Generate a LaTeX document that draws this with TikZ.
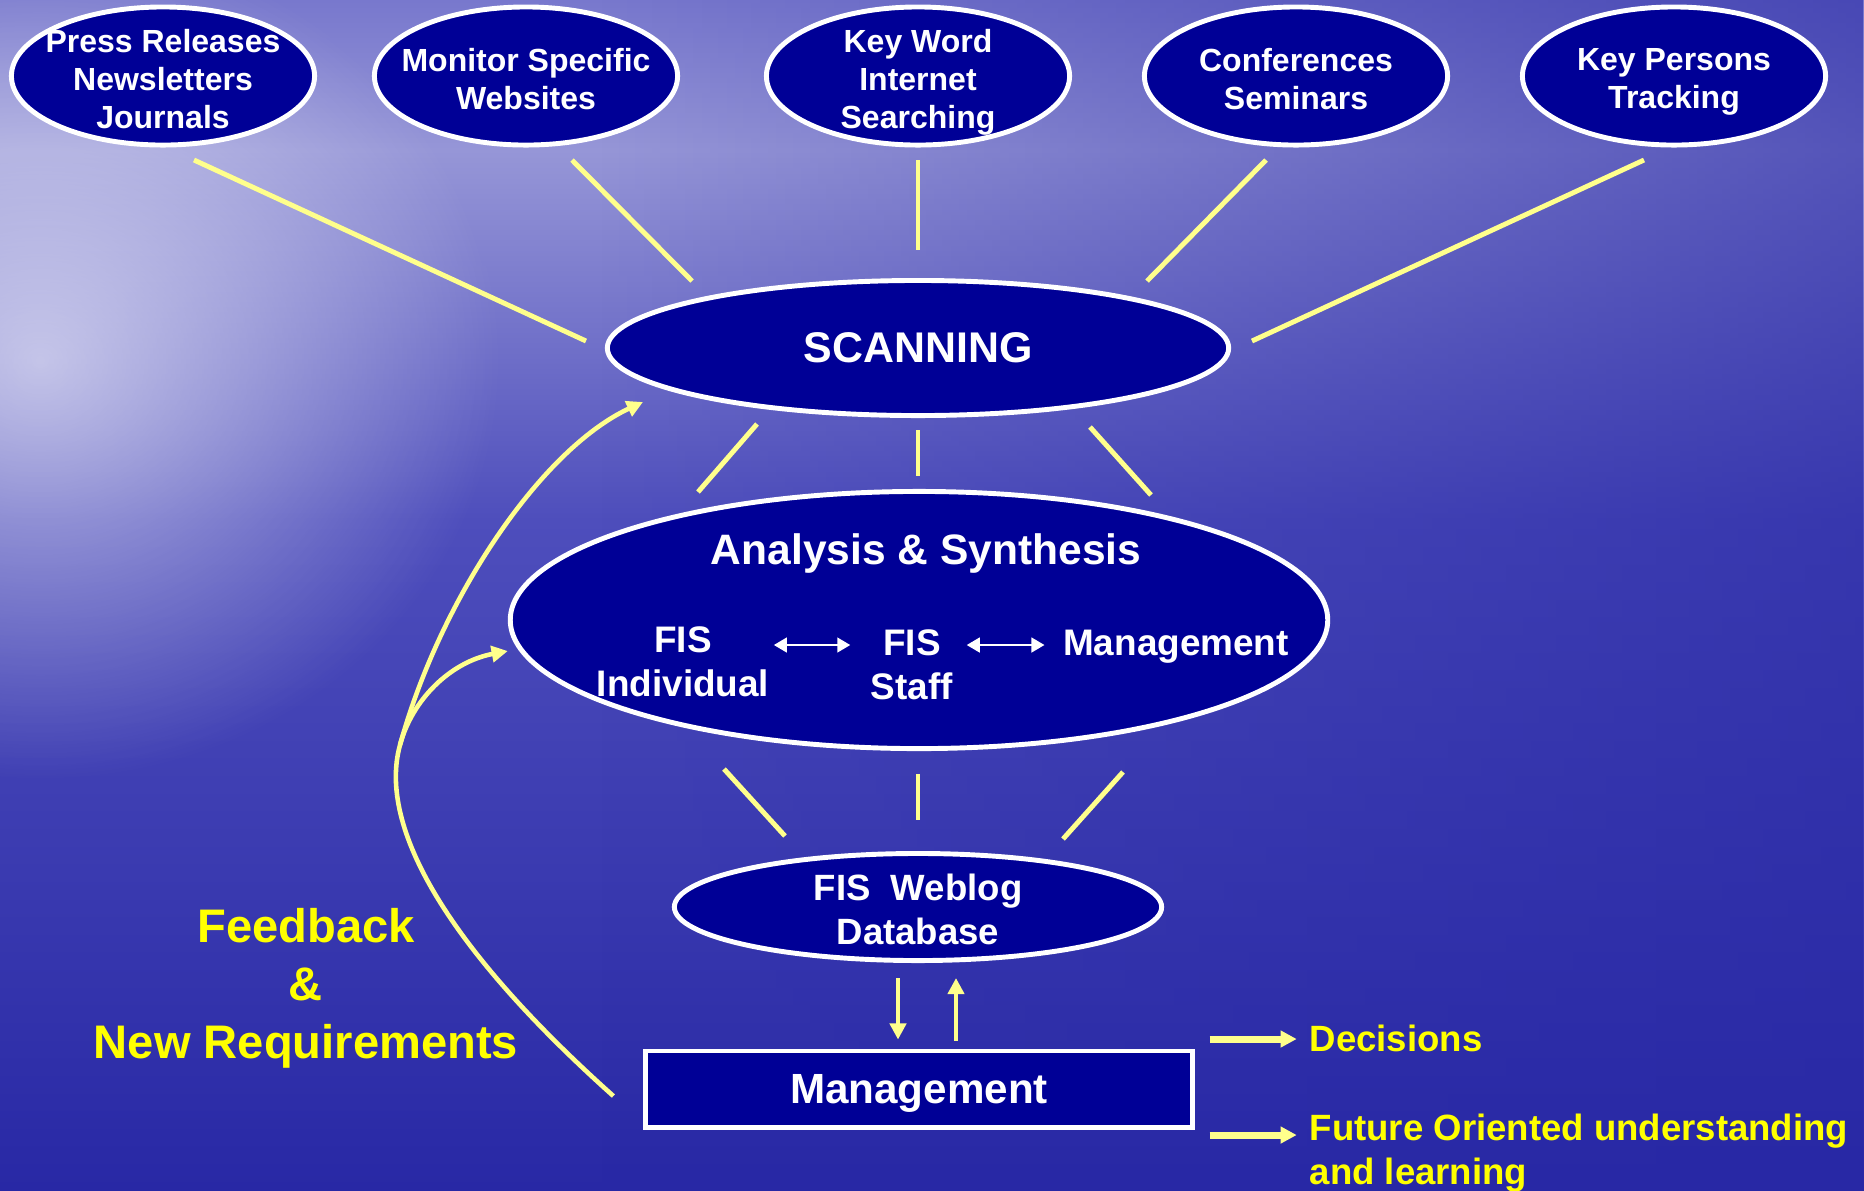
\documentclass[tikz,border=0pt]{standalone}
\usepackage{fontspec}
\setmainfont{Liberation Sans}
\usetikzlibrary{shapes.geometric,fadings,arrows.meta}
\definecolor{navy}{RGB}{0,0,150}
\definecolor{paleyellow}{RGB}{255,255,140}
\definecolor{textyellow}{RGB}{255,255,0}
\definecolor{bgdeep}{RGB}{40,40,165}
\definecolor{bgmid}{RGB}{78,78,188}
\definecolor{bgband}{RGB}{150,150,215}
\definecolor{bgsky}{RGB}{120,120,205}
\definecolor{bglight}{RGB}{200,200,236}
\tikzfading[name=glow, inner color=transparent!0, outer color=transparent!100]
\tikzfading[name=toright, left color=transparent!100, right color=transparent!40]
\tikzfading[name=bandfade, top color=transparent!100, middle color=transparent!5, bottom color=transparent!100]

\begin{document}
\begin{tikzpicture}[x=0.01cm, y=-0.01cm, inner sep=0pt, >={Triangle[length=4.6pt,width=4.6pt]},
  oval/.style={ellipse, draw=white, line width=1.4pt, fill=navy},
  src/.style={oval, minimum width=3.03cm, minimum height=1.38cm},
  srcText/.style={text=white, align=center, font=\bfseries\fontsize{9.1}{10.8}\selectfont},
  inText/.style={text=white, align=center, font=\bfseries\fontsize{10.5}{12.5}\selectfont},
  spoke/.style={draw=paleyellow, line width=1.4pt},
  fb/.style={draw=paleyellow, line width=1.3pt, ->},
  pair/.style={white, line width=0.6pt, {Triangle[length=3.7pt,width=4.2pt]}-{Triangle[length=3.7pt,width=4.2pt]}},
  outText/.style={text=textyellow, anchor=west, align=left, font=\bfseries\fontsize{10.4}{12.5}\selectfont}]
\useasboundingbox (0,0) rectangle (1864,1190);
% sea background
\fill[bgdeep] (0,0) rectangle (1864,1190);
\shade[top color=bgsky, bottom color=bgband] (0,0) rectangle (1864,150);
\shade[top color=bgband, bottom color=bgmid] (0,150) rectangle (1864,520);
\shade[top color=bgmid, bottom color=bgdeep] (0,520) rectangle (1864,1190);
\fill[bgdeep, path fading=toright] (600,0) rectangle (1864,1190);
\fill[bglight, path fading=bandfade] (0,90) rectangle (1864,210);
\fill[white, opacity=0.6, path fading=glow] (40,360) ellipse (460 and 420);

% sources
\node (press) at (163,76) [src] {};
\node (mon) at (526,76) [src] {};
\node (key) at (918,76) [src] {};
\node (conf) at (1296,76) [src] {};
\node (pers) at (1674,76) [src] {};
\node (pressT) at (163,79) [srcText] {Press Releases\\Newsletters\\Journals};
\node (monT) at (526,79) [srcText] {Monitor Specific\\Websites};
\node (keyT) at (918,82) [srcText] {Key Word\\Internet\\Searching};
\node (confT) at (1296,79) [srcText] {Conferences\\Seminars};
\node (persT) at (1674,82) [srcText] {Key Persons\\Tracking};

% main chain
\node (scan) at (918,348) [oval, minimum width=6.21cm, minimum height=1.35cm, text=white,
  font=\bfseries\fontsize{12.2}{14}\selectfont] {SCANNING};
\node (ana) at (919,620) [oval, minimum width=8.17cm, minimum height=2.57cm] {};
\node (anaT) at (926,553) [text=white, font=\bfseries\fontsize{12.1}{14}\selectfont] {Analysis \& Synthesis};
\node (fisInd) at (683,662) [inText] {FIS\\Individual};
\node (fisStaff) at (912,665) [inText] {FIS\\Staff};
\node (anaMgmt) at (1176,647) [inText] {Management};
\node (web) at (918,907) [oval, minimum width=4.87cm, minimum height=1.07cm] {};
\node (webT) at (918,909) [inText, font=\bfseries\fontsize{10.4}{12.5}\selectfont] {FIS\ \ Weblog\\Database};
\node (mgmt) at (919,1089) [rectangle, draw=white, line width=1.4pt, fill=navy,
  minimum width=5.46cm, minimum height=0.76cm, text=white, text depth=0pt,
  font=\bfseries\fontsize{12}{14}\selectfont] {Management};

% outputs and feedback text
\node (decis) at (1309,1038) [outText] {Decisions};
\node (future) at (1309,1153) [outText] {Future Oriented understanding\\and learning};
\node (fbT) at (306,988) [text=textyellow, align=center,
  font=\bfseries\fontsize{13.4}{16.5}\selectfont] {Feedback\\\&\\New Requirements};
\coordinate (fork) at (400,745);

% spokes into scanning
\draw[spoke] ([shift={(31,84)}]press.center) -- ([shift={(-332,-7)}]scan.center);
\draw[spoke] ([shift={(46,84)}]mon.center) -- ([shift={(-226,-67)}]scan.center);
\draw[spoke] ([shift={(0,84)}]key.center) -- ([shift={(0,-98)}]scan.center);
\draw[spoke] ([shift={(-30,84)}]conf.center) -- ([shift={(229,-67)}]scan.center);
\draw[spoke] ([shift={(-30,84)}]pers.center) -- ([shift={(334,-7)}]scan.center);
% scanning to analysis
\draw[spoke] ([shift={(-161,76)}]scan.center) -- ([shift={(-221,-128)}]ana.center);
\draw[spoke] ([shift={(0,82)}]scan.center) -- ([shift={(-1,-144)}]ana.center);
\draw[spoke] ([shift={(172,79)}]scan.center) -- ([shift={(232,-125)}]ana.center);
% analysis to weblog
\draw[spoke] ([shift={(-195,149)}]ana.center) -- ([shift={(-133,-71)}]web.center);
\draw[spoke] ([shift={(-1,154)}]ana.center) -- ([shift={(0,-87)}]web.center);
\draw[spoke] ([shift={(204,152)}]ana.center) -- ([shift={(145,-68)}]web.center);

% exchange inside analysis
\draw[pair] ([shift={(4,0)}]fisInd.east |- 0,645) -- ([shift={(-20,0)}]fisStaff.west |- 0,645);
\draw[pair] ([shift={(13,0)}]fisStaff.east |- 0,645) -- ([shift={(-18,0)}]anaMgmt.west |- 0,645);

% weblog <-> management
\draw[->, paleyellow, line width=1.15pt] ([shift={(-20,15)}]web.south) -- ([shift={(-21,-9)}]mgmt.north);
\draw[->, paleyellow, line width=1.15pt] ([shift={(37,-8)}]mgmt.north) -- ([shift={(38,15)}]web.south);

% results
\draw[->, paleyellow, line width=2pt, shorten >=3.5pt] ([shift={(15,-50)}]mgmt.east) coordinate (d0) -- (decis.west |- d0);
\draw[->, paleyellow, line width=2pt, shorten >=3.5pt] ([shift={(15,46)}]mgmt.east) coordinate (f0) -- (future.west |- f0);

% feedback loops
\draw[fb] ([shift={(-30,7)}]mgmt.west) .. controls (450,950) and (377,828) .. (fork)
  .. controls (440,600) and (540,450) .. ([shift={(-275,54)}]scan.center);
\draw[fb] (fork) .. controls (412,700) and (450,662) .. ([shift={(0,31)}]ana.west);
\end{tikzpicture}
\end{document}
